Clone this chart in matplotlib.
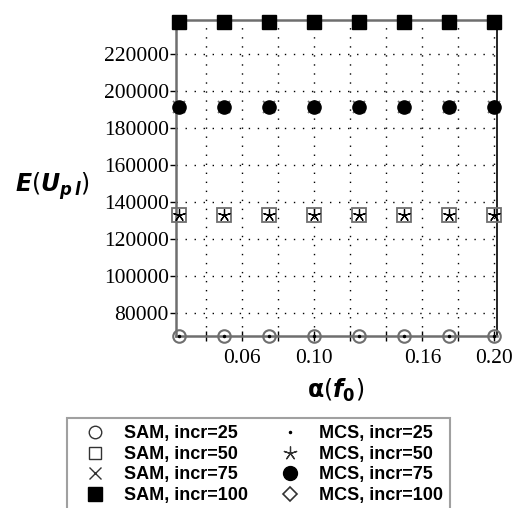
import matplotlib
matplotlib.use("Agg")
import matplotlib.pyplot as plt
from matplotlib.lines import Line2D

alpha_vals = [0.025, 0.05, 0.075, 0.10, 0.125, 0.15, 0.175, 0.20]
incr_values = {25: 67730, 50: 133100, 75: 191500, 100: 237600}
sam_labels = ["SAM, incr=25", "SAM, incr=50", "SAM, incr=75", "SAM, incr=100"]
mcs_labels = ["MCS, incr=25", "MCS, incr=50", "MCS, incr=75", "MCS, incr=100"]
yticks = [80000, 100000, 120000, 140000, 160000, 180000, 200000, 220000]
xticks = [0.04, 0.06, 0.08, 0.10, 0.12, 0.14, 0.16, 0.18, 0.20]
xtick_labels = {0.06: "0.06", 0.10: "0.10", 0.16: "0.16", 0.20: "0.20"}

plt.rcParams['mathtext.fontset'] = 'dejavusans'

fig = plt.figure(figsize=(5.15, 5.08), dpi=100)
ax = fig.add_axes([0.3412, 0.3386, 0.6233, 0.623])

grey = '#6e6e6e'
sam_styles = [
    dict(marker='o', ms=9, mfc='none', mec=grey, mew=1.5),
    dict(marker='s', ms=9.5, mfc='none', mec=grey, mew=1.3),
    dict(marker='x', ms=9, color=grey, mew=1.3),
    dict(marker='s', ms=10, mfc='black', mec='black'),
]
mcs_styles = [
    dict(marker='.', ms=3, color='black'),
    dict(marker=(5, 2, 0), ms=9, color='black', mew=0.9),
    dict(marker='o', ms=9.5, mfc='black', mec='black'),
    dict(marker='D', ms=5, mfc='none', mec='black', mew=1),
]
sam_leg_styles = [
    dict(marker='o', ms=9, mfc='none', mec='#333333', mew=1.0),
    dict(marker='s', ms=9, mfc='none', mec='#333333', mew=1.0),
    dict(marker='x', ms=9, color='#333333', mew=1.0),
    dict(marker='s', ms=10, mfc='black', mec='black'),
]
mcs_leg_styles = [
    dict(marker='.', ms=3, color='black'),
    dict(marker=(5, 2, 0), ms=10, color='#333333', mew=0.9),
    dict(marker='o', ms=10, mfc='black', mec='black'),
    dict(marker='D', ms=7, mfc='none', mec='#333333', mew=1.2),
]

incrs = [25, 50, 75, 100]
for i, inc in enumerate(incrs):
    y = [incr_values[inc]] * len(alpha_vals)
    ax.plot(alpha_vals, y, ls='none', clip_on=False, zorder=5, **sam_styles[i])
for i, inc in enumerate(incrs):
    y = [incr_values[inc]] * len(alpha_vals)
    ax.plot(alpha_vals, y, ls='none', clip_on=False, zorder=6, **mcs_styles[i])

ax.set_xlim(0.023, 0.2013)
ax.set_ylim(67730, 238800)

ax.set_xticks(xticks)
ax.set_xticklabels([xtick_labels.get(round(t, 2), "") for t in xticks])
ax.set_yticks(yticks)
ax.set_yticklabels([str(v) for v in yticks])
for lbl in ax.get_xticklabels() + ax.get_yticklabels():
    lbl.set_fontfamily('Liberation Serif')
    lbl.set_fontsize(15.5)
ax.tick_params(axis='x', direction='inout', length=7, width=1, pad=6)
ax.tick_params(axis='y', direction='out', length=4, width=1, pad=1)

ax.grid(True, color='black', linestyle=(0, (1, 5.5)), linewidth=1.0)

for s in ['left', 'bottom', 'top']:
    ax.spines[s].set_color(grey)
    ax.spines[s].set_linewidth(1.8)
ax.spines['right'].set_color('black')
ax.spines['right'].set_linewidth(1.2)

fig.text(52/515, 1 - 186/508,
         r'$\mathbfit{E}\left(\mathbfit{U}_{\mathbfit{p\,l}}\right)$',
         fontsize=17, ha='center', va='center')
fig.text(336/515, 1 - 390/508,
         r'$\mathbf{\alpha}\left(\mathbfit{f}_{\mathbf{0}}\right)$',
         fontsize=17, ha='center', va='center')

handles = []
labels = []
for i in range(4):
    handles.append(Line2D([], [], ls='none', **sam_leg_styles[i]))
    labels.append(sam_labels[i])
for i in range(4):
    handles.append(Line2D([], [], ls='none', **mcs_leg_styles[i]))
    labels.append(mcs_labels[i])

leg = fig.legend(handles, labels, ncol=2, loc='upper left',
                 bbox_to_anchor=(67/515, 1 - 418/508),
                 frameon=True, fancybox=False,
                 prop={'family': 'Liberation Sans', 'weight': 'bold', 'size': 13},
                 handlelength=2.3, handletextpad=0.45, labelspacing=0.2,
                 borderpad=0.4, borderaxespad=0, columnspacing=1.2)
leg.get_frame().set_edgecolor('#888888')
leg.get_frame().set_linewidth(1.5)

fig.savefig('out.png', dpi=100)
